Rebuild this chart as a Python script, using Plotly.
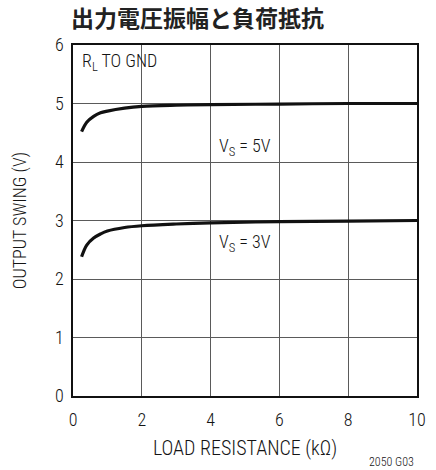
import plotly.graph_objects as go

# Load resistance (kOhm) and output swing (V) for each supply voltage
r_load = [0.25, 0.4, 0.6, 0.8, 1.0, 1.5, 2.0, 3.0, 4.0, 6.0, 8.0, 10.0]
swing_5v = [4.52, 4.68, 4.78, 4.84, 4.87, 4.92, 4.95, 4.97, 4.98, 4.99, 5.0, 5.0]
swing_3v = [2.38, 2.58, 2.70, 2.77, 2.82, 2.88, 2.91, 2.94, 2.96, 2.98, 2.99, 3.0]

x_ticks = [0, 2, 4, 6, 8, 10]
y_ticks = [0, 1, 2, 3, 4, 5, 6]

FONT = "Roboto Condensed, DejaVu Sans Condensed, sans-serif"
INK = "#141414"
W = 300

fig = go.Figure()
for ys in (swing_5v, swing_3v):
    fig.add_trace(go.Scatter(
        x=r_load, y=ys, mode="lines",
        line=dict(color="#111111", width=3.2, shape="spline", smoothing=1.0),
        showlegend=False, hoverinfo="skip"))

fig.update_layout(
    width=436, height=470,
    margin=dict(l=73, r=10, t=45, b=74),
    paper_bgcolor="white", plot_bgcolor="white",
    font=dict(family=FONT, size=18, color=INK, weight=W),
    title=dict(text="<b>出力電圧振幅と負荷抵抗</b>",
               font=dict(family="Noto Sans CJK JP", size=23, color="#222222"),
               x=71 / 436, xanchor="left", y=1 - 19 / 470, yanchor="middle"),
)
fig.update_xaxes(range=[0, 10], tickvals=x_ticks, ticks="", showgrid=True,
                 gridcolor="#5a5a5a", gridwidth=1.2, showline=True, linecolor="#111111",
                 linewidth=1.5, mirror=True, zeroline=False, ticklabelstandoff=7,
                 tickfont=dict(weight=W),
                 title=dict(text="LOAD RESISTANCE (kΩ)", standoff=12,
                            font=dict(size=20, weight=W)))
fig.update_yaxes(range=[0, 6], tickvals=y_ticks, ticks="", showgrid=True,
                 gridcolor="#5a5a5a", gridwidth=1.2, showline=True, linecolor="#111111",
                 linewidth=1.5, mirror=True, zeroline=False, ticklabelstandoff=4,
                 tickfont=dict(weight=W),
                 title=dict(text="OUTPUT SWING (V)", standoff=24,
                            font=dict(size=18, weight=W)))

ann = dict(showarrow=False, xanchor="left", yanchor="middle",
           font=dict(size=18, color=INK, weight=W))
fig.add_annotation(x=0.2, y=5.71, text="R<sub>L</sub> TO GND", **ann)
fig.add_annotation(x=4.2, y=4.25, text="V<sub>S</sub> = 5V", **ann)
fig.add_annotation(x=4.2, y=2.62, text="V<sub>S</sub> = 3V", **ann)
fig.add_annotation(x=1.0, y=0, xref="paper", yref="paper", xanchor="right", yanchor="middle",
                   xshift=-1, yshift=-66, showarrow=False, text="2050 G03",
                   font=dict(size=12, color=INK, weight=W))

fig.write_html("out.html")
